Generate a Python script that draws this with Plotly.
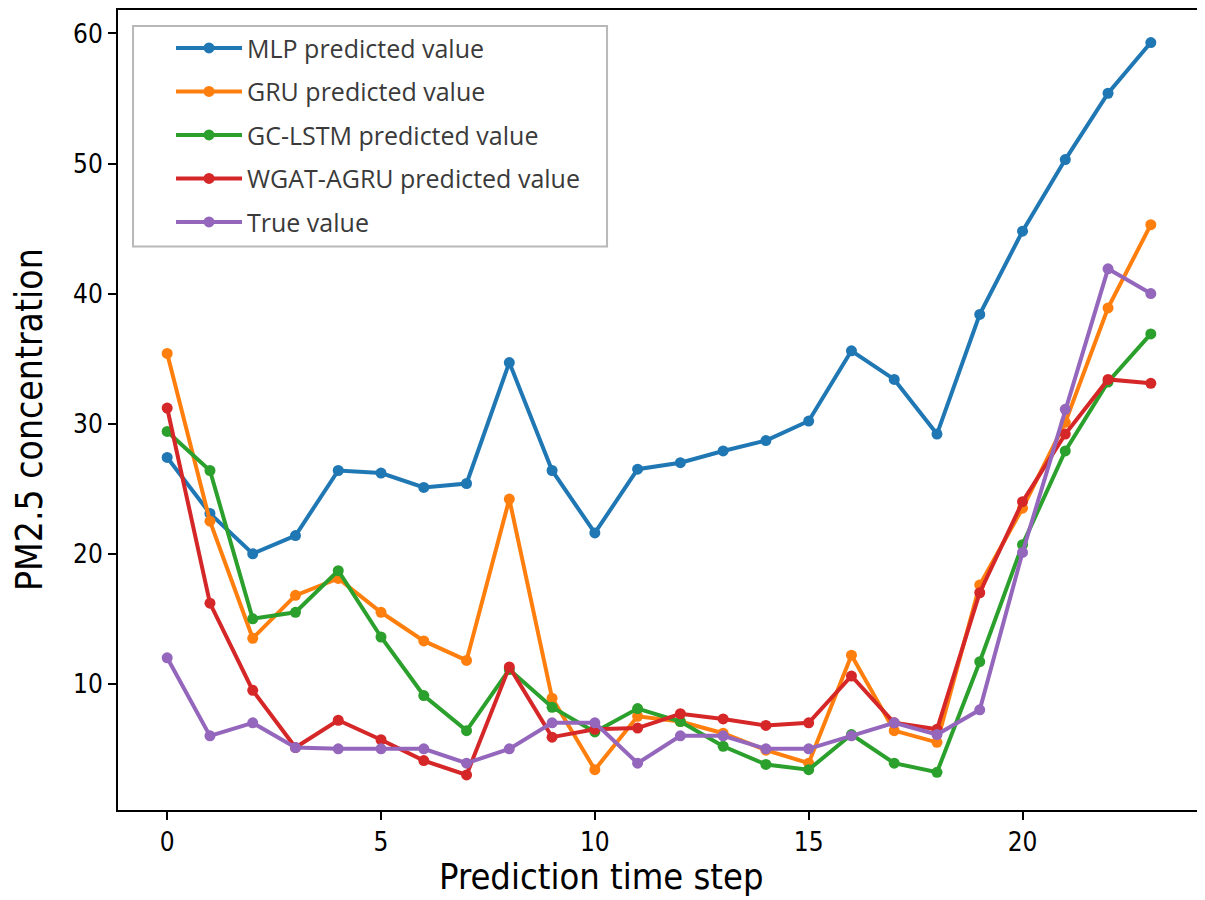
import plotly.graph_objects as go

steps = list(range(24))
mlp = [27.4, 23.1, 20.0, 21.4, 26.4, 26.2, 25.1, 25.4, 34.7, 26.4, 21.6, 26.5,
       27.0, 27.9, 28.7, 30.2, 35.6, 33.4, 29.2, 38.4, 44.8, 50.3, 55.4, 59.3]
gru = [35.4, 22.5, 13.5, 16.8, 18.1, 15.5, 13.3, 11.8, 24.2, 8.9, 3.4, 7.5,
       7.1, 6.2, 4.9, 3.9, 12.2, 6.4, 5.5, 17.6, 23.5, 30.1, 38.9, 45.3]
gclstm = [29.4, 26.4, 15.0, 15.5, 18.7, 13.6, 9.1, 6.4, 11.1, 8.2, 6.3, 8.1,
          7.1, 5.2, 3.8, 3.4, 6.1, 3.9, 3.2, 11.7, 20.7, 27.9, 33.2, 36.9]
wgat = [31.2, 16.2, 9.5, 5.1, 7.2, 5.7, 4.1, 3.0, 11.3, 5.9, 6.5, 6.6,
        7.7, 7.3, 6.8, 7.0, 10.6, 7.0, 6.5, 17.0, 24.0, 29.2, 33.4, 33.1]
true_v = [12.0, 6.0, 7.0, 5.1, 5.0, 5.0, 5.0, 3.9, 5.0, 7.0, 7.0, 3.9,
          6.0, 6.0, 5.0, 5.0, 6.0, 7.0, 6.1, 8.0, 20.1, 31.1, 41.9, 40.0]

names = ["MLP predicted value", "GRU predicted value", "GC-LSTM predicted value",
         "WGAT-AGRU predicted value", "True value"]
colors = ["#1f77b4", "#ff7f0e", "#2ca02c", "#d62728", "#9467bd"]
series = [mlp, gru, gclstm, wgat, true_v]

fig = go.Figure()
for i, (nm, c, ys) in enumerate(zip(names, colors, series)):
    fig.add_trace(go.Scatter(
        x=steps, y=ys, mode="lines+markers", name=nm, legendgroup=str(i),
        line=dict(color=c, width=4),
        marker=dict(color=c, size=11),
    ))

# legend frame
fig.add_shape(type="rect", xref="paper", yref="paper",
              x0=0.0139, x1=0.452, y0=0.7045, y1=0.980,
              line=dict(color="#b8b8b8", width=2), fillcolor="rgba(0,0,0,0)")

axis_font = "Liberation Sans Narrow, DejaVu Sans Condensed, Liberation Sans"

fig.add_annotation(text="Prediction time step", xref="paper", yref="paper",
                   x=0.447, y=-0.0835, xanchor="center", yanchor="middle",
                   showarrow=False, font=dict(family=axis_font, size=36, color="black"))
fig.add_annotation(text="PM2.5 concentration", xref="paper", yref="paper",
                   x=-0.0813, y=0.4875, xanchor="center", yanchor="middle",
                   textangle=-90, showarrow=False,
                   font=dict(family=axis_font, size=37, color="black"))

fig.update_layout(
    width=1205, height=900,
    paper_bgcolor="white", plot_bgcolor="white",
    margin=dict(l=110, r=13, t=0, b=98),
    font=dict(family=axis_font, color="black"),
    showlegend=True,
    legend=dict(
        x=0.049, y=0.981, xanchor="left", yanchor="top",
        bgcolor="rgba(0,0,0,0)", borderwidth=0,
        font=dict(family="Open Sans", size=25, color="#3a3a3a"),
        tracegroupgap=8, itemwidth=66,
    ),
    xaxis=dict(
        range=[-1.15, 24.15], tickmode="array", tickvals=[0, 5, 10, 15, 20],
        showgrid=False, zeroline=False,
        showline=True, linecolor="black", linewidth=2, mirror=True,
        ticks="outside", ticklen=8, tickwidth=1.5, tickcolor="black",
        tickfont=dict(size=26),
    ),
    yaxis=dict(
        range=[0.3, 61.8], tickmode="array", tickvals=[10, 20, 30, 40, 50, 60],
        showgrid=False, zeroline=False,
        showline=True, linecolor="black", linewidth=2, mirror=True,
        ticks="outside", ticklen=8, tickwidth=1.5, tickcolor="black",
        tickfont=dict(size=26),
    ),
)

fig.write_html("out.html")
